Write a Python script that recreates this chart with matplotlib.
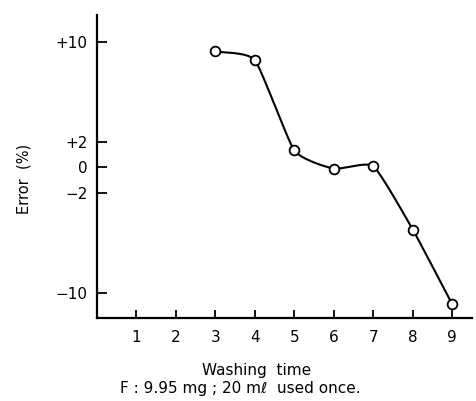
import numpy as np
import matplotlib.pyplot as plt

# data
washing = [3, 4, 5, 6, 7, 8, 9]
error = [9.25, 8.55, 1.35, -0.1, 0.1, -4.95, -10.9]

xticks = [1, 2, 3, 4, 5, 6, 7, 8, 9]
yticks = [10, 2, 0, -2, -10]
ylabels = ['+10', '+2', '0', '\u22122', '\u221210']


def smooth(xs, ys, ky, tension=0.5, n=30):
    # cardinal spline through the points, built in screen-like units
    p = np.column_stack([xs, np.array(ys) * ky]).astype(float)
    m = np.zeros_like(p)
    m[1:-1] = (1 - tension) * (p[2:] - p[:-2]) / 2
    m[0] = (1 - tension) * (p[1] - p[0])
    m[-1] = (1 - tension) * (p[-1] - p[-2])
    t = np.linspace(0, 1, n)[:, None]
    h00 = 2 * t**3 - 3 * t**2 + 1
    h10 = t**3 - 2 * t**2 + t
    h01 = -2 * t**3 + 3 * t**2
    h11 = t**3 - t**2
    out = []
    for i in range(len(p) - 1):
        out.append(h00 * p[i] + h10 * m[i] + h01 * p[i + 1] + h11 * m[i + 1])
    c = np.vstack(out)
    return c[:, 0], c[:, 1] / ky


fig = plt.figure(figsize=(4.77, 4.01), dpi=100)
ax = fig.add_axes([0.2034, 0.207, 0.786, 0.7556])

sx, sy = smooth(washing, error, 12.55 / 39.4)
ax.plot(sx, sy, color='black', lw=1.5, zorder=2)
ax.plot(washing, error, 'o', ms=7, mfc='white', mec='black', mew=1.3, zorder=3)

ax.set_xlim(0, 9.5)
ax.set_ylim(-12.0, 12.15)
ax.spines['top'].set_visible(False)
ax.spines['right'].set_visible(False)
ax.spines['left'].set_linewidth(1.6)
ax.spines['bottom'].set_linewidth(1.6)

ax.set_xticks(xticks)
ax.set_xticklabels([str(v) for v in xticks], fontsize=11)
ax.set_yticks(yticks)
ax.set_yticklabels(ylabels, fontsize=11)
ax.tick_params(axis='x', direction='in', length=6, width=1.3, pad=9)
ax.tick_params(axis='y', direction='in', length=7, width=1.3, pad=7)

ax.set_ylabel('Error  (%)', fontsize=10.5)
ax.yaxis.set_label_coords(-0.175, 0.46)
fig.text(0.537, 0.077, 'Washing  time', ha='center', va='center', fontsize=11)
fig.text(0.504, 0.032, 'F : 9.95 mg ; 20 m\u2113  used once.', ha='center', va='center', fontsize=11)

fig.savefig('out.png', dpi=100)
